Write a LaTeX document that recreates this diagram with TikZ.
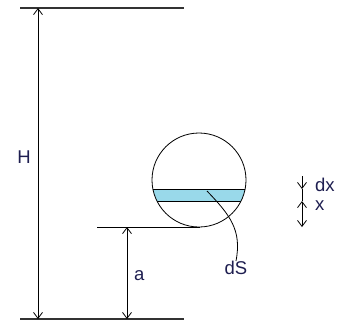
\documentclass[tikz,border=0pt]{standalone}
\usepackage{fontspec}
\setmainfont{Liberation Sans}
\definecolor{stripblue}{RGB}{153,217,234}
\definecolor{textblue}{RGB}{30,30,80}
\usetikzlibrary{arrows.meta,positioning,calc}

\begin{document}
\begin{tikzpicture}[x=1pt,y=-1pt,
  edge/.style={line width=1.2pt,black!80},
  dim/.style={{Straight Barb[length=6pt,width=9pt]}-{Straight Barb[length=6pt,width=9pt]},line width=0.8pt},
  halfdim/.style={-{Straight Barb[length=6pt,width=9pt]},line width=0.8pt},
  lbl/.style={font=\fontsize{18.5}{20}\selectfont,text=textblue,inner sep=0pt}
]
  \useasboundingbox (0,0) rectangle (343,322);

  % Reference levels
  \coordinate (topL) at (20,8);   \coordinate (topR) at (184,8);
  \coordinate (botL) at (20,319); \coordinate (botR) at (184,319);
  \coordinate (midL) at (97,227); \coordinate (midR) at (200,227);
  \draw[edge] (topL) -- (topR);
  \draw[edge] (botL) -- (botR);
  \draw[line width=0.8pt] (midL) -- (midR);

  % Height H
  \coordinate (hTop) at (38,8); \coordinate (hBot) at (38,319);
  \draw[dim] (hTop) -- (hBot);
  \node[lbl] (H) at (24,157) {H};

  % Height a
  \coordinate (aTop) at (127,227); \coordinate (aBot) at (127,319);
  \draw[dim] (aTop) -- (aBot);
  \node[lbl,anchor=west] (a) at (134,276) {a};

  % Sphere with strip dS
  \coordinate (ctr) at (199,180);
  \begin{scope}
    \clip (ctr) circle (47);
    \fill[stripblue] (150,189) rectangle (250,201);
    \draw[line width=0.8pt] (150,189) -- (250,189);
    \draw[line width=0.8pt] (150,201) -- (250,201);
  \end{scope}
  \draw[line width=0.8pt] (ctr) circle (47);

  % Leader for dS
  \coordinate (sIn) at (207,191);
  \node[lbl] (dS) at (236,268) {dS};
  \draw[line width=0.8pt] (sIn) .. controls (230,215) and (242,230) .. (dS.north);

  % dx and x
  \coordinate (dxTop) at (302,176); \coordinate (dxA) at (302,189);
  \coordinate (dxB) at (302,201);   \coordinate (xBot) at (302,227);
  \draw[halfdim] (dxTop) -- (dxA);
  \draw[line width=0.8pt] (dxA) -- (dxB);
  \draw[dim] (dxB) -- (xBot);
  \node[lbl,anchor=west] (dx) at (315,185) {dx};
  \node[lbl,anchor=west] (x) at (315,206) {x};
\end{tikzpicture}
\end{document}
